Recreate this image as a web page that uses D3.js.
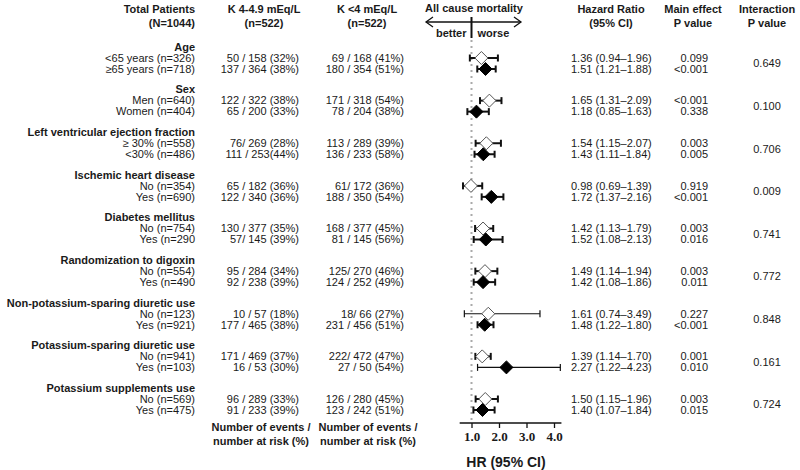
<!DOCTYPE html>
<html>
<head>
<meta charset="utf-8">
<script src="https://cdn.jsdelivr.net/npm/d3@7"></script>
<style>
  body { margin: 0; background: #fff; }
  svg text { font-family: "Liberation Sans", Arial, sans-serif; fill: #1a1a1a; }
</style>
</head>
<body>
<svg id="chart" width="800" height="470"></svg>
<script>
///////////////    Data    ////////////////

// subgroup headers
const groups = [
  "Age",
  "Sex",
  "Left ventricular ejection fraction",
  "Ischemic heart disease",
  "Diabetes mellitus",
  "Randomization to digoxin",
  "Non-potassium-sparing diuretic use",
  "Potassium-sparing diuretic use",
  "Potassium supplements use",
];

// two rows per group
const rowLabels = [
  ["<65 years (n=326)", "\u226565 years (n=718)"],
  ["Men (n=640)", "Women (n=404)"],
  ["\u2265 30% (n=558)", "<30% (n=486)"],
  ["No (n=354)", "Yes (n=690)"],
  ["No (n=754)", "Yes (n=290"],
  ["No (n=554)", "Yes (n=490"],
  ["No (n=123)", "Yes (n=921)"],
  ["No (n=941)", "Yes (n=103)"],
  ["No (n=569)", "Yes (n=475)"],
];

// K 4-4.9 mEq/L events / at risk
const normalK = [
  ["50 / 158 (32%)", "137 / 364 (38%)"],
  ["122 / 322 (38%)", "65 / 200 (33%)"],
  ["76/ 269 (28%)", "111 / 253(44%)"],
  ["65 / 182 (36%)", "122 / 340 (36%)"],
  ["130 / 377 (35%)", "57/ 145 (39%)"],
  ["95 / 284 (34%)", "92 / 238 (39%)"],
  ["10 / 57 (18%)", "177 / 465 (38%)"],
  ["171 / 469 (37%)", "16 / 53 (30%)"],
  ["96 / 289 (33%)", "91 / 233 (39%)"],
];

// K <4 mEq/L events / at risk
const lowK = [
  ["69 / 168 (41%)", "180 / 354 (51%)"],
  ["171 / 318 (54%)", "78 / 204 (38%)"],
  ["113 / 289 (39%)", "136 / 233 (58%)"],
  ["61/ 172 (36%)", "188 / 350 (54%)"],
  ["168 / 377 (45%)", "81 / 145 (56%)"],
  ["125/ 270 (46%)", "124 / 252 (49%)"],
  ["18/ 66 (27%)", "231 / 456 (51%)"],
  ["222/ 472 (47%)", "27 / 50 (54%)"],
  ["126 / 280 (45%)", "123 / 242 (51%)"],
];

// hazard ratio, lower, upper
const hr = [
  [[1.36, 0.94, 1.96], [1.51, 1.21, 1.88]],
  [[1.65, 1.31, 2.09], [1.18, 0.85, 1.63]],
  [[1.54, 1.15, 2.07], [1.43, 1.11, 1.84]],
  [[0.98, 0.69, 1.39], [1.72, 1.37, 2.16]],
  [[1.42, 1.13, 1.79], [1.52, 1.08, 2.13]],
  [[1.49, 1.14, 1.94], [1.42, 1.08, 1.86]],
  [[1.61, 0.74, 3.49], [1.48, 1.22, 1.8]],
  [[1.39, 1.14, 1.7], [2.27, 1.22, 4.23]],
  [[1.5, 1.15, 1.96], [1.4, 1.07, 1.84]],
];

const mainP = [
  ["0.099", "<0.001"],
  ["<0.001", "0.338"],
  ["0.003", "0.005"],
  ["0.919", "<0.001"],
  ["0.003", "0.016"],
  ["0.003", "0.011"],
  ["0.227", "<0.001"],
  ["0.001", "0.010"],
  ["0.003", "0.015"],
];

const interactionP = ["0.649", "0.100", "0.706", "0.009", "0.741", "0.772", "0.848", "0.161", "0.724"];

const hrTicks = [1, 2, 3, 4];

///////////////    Drawing    ////////////////

const svg = d3.select("#chart");

// group header y positions
const yGroup = d3.scaleLinear().domain([0, groups.length - 1]).range([47, 388]);
const rowOffset = [11, 22];

// HR scale (linear)
const x = d3.scaleLinear().domain([1, 4]).range([471.5, 554]);
const axisY = 423;

function fmt(v) { return v.toFixed(2); }

function addText(x0, y0, str, anchor, opts) {
  opts = opts || {};
  return svg.append("text")
    .attr("x", x0)
    .attr("y", y0)
    .attr("dy", "0.35em")
    .attr("text-anchor", anchor)
    .attr("font-size", opts.size || 11)
    .attr("font-weight", opts.bold ? "bold" : "normal")
    .text(str);
}

// column headers
addText(195, 9, "Total Patients", "end", { bold: true });
addText(195, 23, "(N=1044)", "end", { bold: true });
addText(264, 9, "K 4-4.9 mEq/L", "middle", { bold: true });
addText(264, 23, "(n=522)", "middle", { bold: true });
addText(367, 9, "K <4 mEq/L", "middle", { bold: true });
addText(367, 23, "(n=522)", "middle", { bold: true });
addText(611, 9, "Hazard Ratio", "middle", { bold: true });
addText(611, 23, "(95% CI)", "middle", { bold: true });
addText(693, 9, "Main effect", "middle", { bold: true });
addText(693, 23, "P value", "middle", { bold: true });
addText(767, 9, "Interaction", "middle", { bold: true });
addText(767, 23, "P value", "middle", { bold: true });

// all cause mortality header with double arrow
addText(474, 8, "All cause mortality", "middle", { bold: true });
const arrowY = 22;
svg.append("line")
  .attr("x1", 426).attr("x2", 521)
  .attr("y1", arrowY).attr("y2", arrowY)
  .attr("stroke", "#111").attr("stroke-width", 1.3);
svg.append("path")
  .attr("d", `M ${433} ${arrowY - 5} L 426 ${arrowY} L ${433} ${arrowY + 5}`)
  .attr("fill", "none").attr("stroke", "#111").attr("stroke-width", 1.3);
svg.append("path")
  .attr("d", `M ${514} ${arrowY - 5} L 521 ${arrowY} L ${514} ${arrowY + 5}`)
  .attr("fill", "none").attr("stroke", "#111").attr("stroke-width", 1.3);
svg.append("line")
  .attr("x1", x(1)).attr("x2", x(1))
  .attr("y1", 17).attr("y2", 38)
  .attr("stroke", "#111").attr("stroke-width", 2);
addText(x(1) - 5, 33, "better", "end", { bold: true });
addText(x(1) + 6, 33, "worse", "start", { bold: true });

// reference dotted line at HR = 1
svg.append("line")
  .attr("x1", x(1)).attr("x2", x(1))
  .attr("y1", 40).attr("y2", axisY)
  .attr("stroke", "#aaa")
  .attr("stroke-width", 2)
  .attr("stroke-dasharray", "2,4");

// rows
groups.forEach((g, gi) => {
  const gy = yGroup(gi);
  addText(195, gy, g, "end", { bold: true });
  addText(767, gy + 16.5, interactionP[gi], "middle");

  for (let r = 0; r < 2; r++) {
    const ry = gy + rowOffset[r];
    addText(195, ry, rowLabels[gi][r], "end");
    addText(299, ry, normalK[gi][r], "end");
    addText(404, ry, lowK[gi][r], "end");

    const [est, lo, hi] = hr[gi][r];
    addText(571, ry, `${fmt(est)} (${fmt(lo)}\u2013${fmt(hi)})`, "start");
    addText(708, ry, mainP[gi][r], "end");

    // confidence interval, thinner when very wide
    const wide = hi - lo > 1.5;
    const sw = wide ? 1.2 : 2;
    svg.append("line")
      .attr("x1", x(lo)).attr("x2", x(hi))
      .attr("y1", ry).attr("y2", ry)
      .attr("stroke", "#111").attr("stroke-width", sw);
    [lo, hi].forEach((v) => {
      svg.append("line")
        .attr("x1", x(v)).attr("x2", x(v))
        .attr("y1", ry - 3.5).attr("y2", ry + 3.5)
        .attr("stroke", "#111").attr("stroke-width", sw);
    });

    // diamond marker: open for first row, filled for second
    const cx = x(est);
    const s = 6.5;
    svg.append("path")
      .attr("d", `M ${cx - s} ${ry} L ${cx} ${ry - s} L ${cx + s} ${ry} L ${cx} ${ry + s} Z`)
      .attr("fill", r === 0 ? "#fff" : "#000")
      .attr("stroke", r === 0 ? "#555" : "#000")
      .attr("stroke-width", 1);
  }
});

// footers
addText(261, 427, "Number of events /", "middle", { bold: true });
addText(261, 441, "number at risk (%)", "middle", { bold: true });
addText(368, 427, "Number of events /", "middle", { bold: true });
addText(368, 441, "number at risk (%)", "middle", { bold: true });

// HR axis
svg.append("line")
  .attr("x1", x(0.57)).attr("x2", x(4.27))
  .attr("y1", axisY).attr("y2", axisY)
  .attr("stroke", "#111").attr("stroke-width", 1.3);
const axis = d3.axisBottom(x)
  .tickValues(hrTicks)
  .tickSize(5)
  .tickFormat(d3.format(".1f"));
const gAxis = svg.append("g")
  .attr("transform", `translate(0,${axisY})`)
  .call(axis);
gAxis.select(".domain").remove();
gAxis.selectAll(".tick line").attr("stroke", "#111").attr("stroke-width", 1.3);
gAxis.selectAll(".tick text")
  .attr("y", 9)
  .style("font-family", "'Liberation Serif', 'DejaVu Serif', serif")
  .style("font-weight", "bold")
  .style("font-size", "13px")
  .style("fill", "#1a1a1a");

addText(506, 462, "HR  (95% CI)", "middle", { bold: true, size: 14 });
</script>
</body>
</html>
